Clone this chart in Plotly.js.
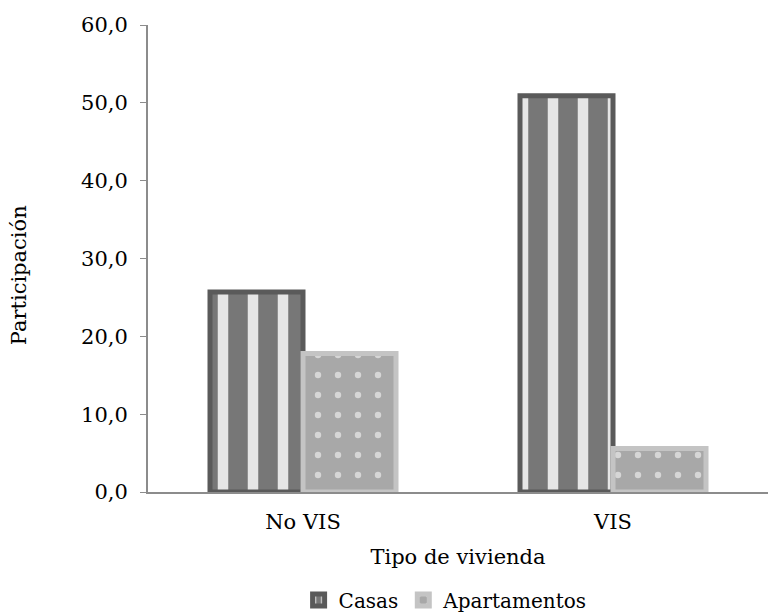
<!DOCTYPE html>
<html>
<head>
<meta charset="utf-8">
<script src="https://cdn.plot.ly/plotly-3.0.1.min.js"></script>
<style>html,body{margin:0;padding:0;background:#fff;}#chart{width:770px;height:616px;}</style>
</head>
<body>
<div id="chart"></div>
<script>
const categories = ["No VIS", "VIS"];
const casas = [25.7, 50.9];
const apartamentos = [17.8, 5.6];
const seriesNames = ["Casas", "Apartamentos"];
const yTicks = [0, 10, 20, 30, 40, 50, 60];
const yTitle = "Participación";
const xTitle = "Tipo de vivienda";

const FONT = "DejaVu Serif";

const traces = [
  {
    type: "bar",
    name: seriesNames[0],
    x: categories,
    y: casas,
    marker: {
      color: "#7a7a7a",
      line: {color: "#5a5a5a", width: 5},
      pattern: {shape: "|", fgcolor: "#e6e6e6", bgcolor: "#777777", size: 30, solidity: 0.35, fillmode: "replace"}
    },
    hoverinfo: "x+y"
  },
  {
    type: "bar",
    name: seriesNames[1],
    x: categories,
    y: apartamentos,
    marker: {
      color: "#a8a8a8",
      line: {color: "#c4c4c4", width: 5},
      pattern: {shape: ".", fgcolor: "#d6d6d6", bgcolor: "#a8a8a8", size: 20, solidity: 0.08, fillmode: "replace"}
    },
    hoverinfo: "x+y"
  }
];

const layout = {
  width: 770,
  height: 616,
  margin: {l: 148, r: 2, t: 25, b: 124},
  paper_bgcolor: "#ffffff",
  plot_bgcolor: "#ffffff",
  separators: ",.",
  font: {family: FONT, size: 21, color: "#000000"},
  barmode: "group",
  bargap: 0.4,
  bargroupgap: 0,
  showlegend: true,
  legend: {
    orientation: "h",
    x: 0.48, xanchor: "center",
    xref: "paper",
    yref: "container",
    y: 0.026, yanchor: "middle",
    font: {family: FONT, size: 20, color: "#000"},
    itemwidth: 30,
    tracegroupgap: 0
  },
  xaxis: {
    type: "category",
    automargin: false,
    showline: true,
    linecolor: "#8c8c8c",
    linewidth: 2,
    ticks: "",
    ticklabelstandoff: 10,
    showgrid: false,
    zeroline: false,
    tickfont: {family: FONT, size: 21},
    title: {text: xTitle, font: {family: FONT, size: 21}, standoff: 16}
  },
  yaxis: {
    automargin: false,
    range: [0, 60],
    tickvals: yTicks,
    tickformat: ".1f",
    showline: true,
    linecolor: "#8c8c8c",
    linewidth: 2,
    ticks: "outside",
    ticklen: 6,
    tickcolor: "#8c8c8c",
    tickwidth: 1,
    ticklabelstandoff: 8,
    showgrid: false,
    zeroline: false,
    tickfont: {family: FONT, size: 21}
  },
  annotations: [
    {
      text: yTitle,
      textangle: -90,
      xref: "paper", yref: "paper",
      x: -0.209, y: 0.465,
      xanchor: "center", yanchor: "middle",
      showarrow: false,
      font: {family: FONT, size: 21, color: "#000"}
    }
  ]
};

Plotly.newPlot("chart", traces, layout, {displayModeBar: false, staticPlot: true});
</script>
</body>
</html>
